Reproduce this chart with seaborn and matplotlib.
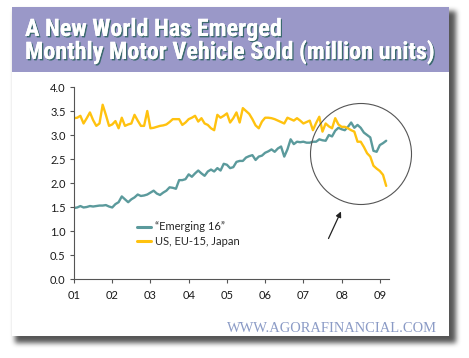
import numpy as np
import pandas as pd
import matplotlib
matplotlib.use("Agg")
import matplotlib.pyplot as plt
import seaborn as sns
from matplotlib import patches, patheffects, font_manager

# ---------------- data (monthly, Jan 2001 .. Mar 2009, million units) ----------------
emerging = [1.48, 1.49, 1.52, 1.49, 1.50, 1.52, 1.51, 1.52, 1.53, 1.53,
            1.54, 1.51, 1.49, 1.56, 1.60, 1.72, 1.66, 1.60, 1.66, 1.70,
            1.76, 1.73, 1.74, 1.76, 1.80, 1.84, 1.78, 1.75, 1.80, 1.84,
            1.91, 1.90, 1.88, 2.06, 2.06, 2.08, 2.18, 2.13, 2.20, 2.26,
            2.20, 2.15, 2.24, 2.28, 2.24, 2.31, 2.26, 2.40, 2.38, 2.31,
            2.33, 2.44, 2.46, 2.46, 2.53, 2.56, 2.58, 2.48, 2.55, 2.57,
            2.63, 2.66, 2.70, 2.65, 2.72, 2.76, 2.55, 2.70, 2.91, 2.81,
            2.86, 2.85, 2.86, 2.84, 2.84, 2.86, 2.86, 2.91, 2.89, 2.88,
            3.00, 2.97, 3.09, 3.15, 3.12, 3.10, 3.17, 3.26, 3.15, 3.21,
            3.15, 3.05, 3.00, 2.95, 2.67, 2.65, 2.79, 2.83, 2.88]
developed = [3.35, 3.36, 3.40, 3.24, 3.35, 3.47, 3.31, 3.19, 3.24, 3.63,
             3.42, 3.19, 3.22, 3.29, 3.14, 3.36, 3.19, 3.22, 3.24, 3.42,
             3.30, 3.19, 3.19, 3.50, 3.14, 3.15, 3.17, 3.19, 3.20, 3.22,
             3.27, 3.33, 3.33, 3.33, 3.21, 3.26, 3.33, 3.36, 3.40, 3.28,
             3.35, 3.24, 3.21, 3.14, 3.10, 3.42, 3.36, 3.40, 3.45, 3.26,
             3.35, 3.47, 3.26, 3.56, 3.50, 3.44, 3.33, 3.20, 3.14, 3.28,
             3.36, 3.36, 3.35, 3.33, 3.30, 3.27, 3.24, 3.36, 3.33, 3.30,
             3.35, 3.30, 3.24, 3.27, 3.30, 3.10, 3.25, 3.38, 3.07, 3.24,
             3.18, 3.14, 3.35, 3.22, 3.17, 3.17, 3.14, 3.10, 3.07, 2.86,
             2.86, 2.75, 2.62, 2.55, 2.36, 2.30, 2.25, 2.17, 1.94]
series_names = ["\u201cEmerging 16\u201d", "US, EU-15, Japan"]
year_ticks = [2001, 2002, 2003, 2004, 2005, 2006, 2007, 2008, 2009]
year_labels = ["01", "02", "03", "04", "05", "06", "07", "08", "09"]
y_ticks = [0.0, 0.5, 1.0, 1.5, 2.0, 2.5, 3.0, 3.5, 4.0]
title_lines = ["A New World Has Emerged",
               "Monthly Motor Vehicle Sold (million units)"]
watermark = "WWW.AGORAFINANCIAL.COM"

n = len(emerging)
dates = 2001 + np.arange(n) / 12.0
df = pd.DataFrame({
    "date": np.concatenate([dates, dates]),
    "value": emerging + developed,
    "series": [series_names[0]] * n + [series_names[1]] * n,
})

# ---------------- style ----------------
sns.set_style("ticks")
plt.rcParams["font.family"] = ["Lato", "DejaVu Sans"]

def pick(fams):
    avail = {f.name for f in font_manager.fontManager.ttflist}
    for f in fams:
        if f in avail:
            return f
    return "DejaVu Sans"

title_font = pick(["Liberation Sans Narrow", "Roboto Condensed", "DejaVu Sans"])
serif_font = pick(["Liberation Serif", "DejaVu Serif"])

W, H = 469, 358
fig = plt.figure(figsize=(W / 100, H / 100), dpi=100)
fig.patch.set_facecolor("white")

# drop shadow behind the panel (blurred mask)
yy, xx = np.mgrid[0:H, 0:W]
mask = ((xx >= 15) & (xx < 456) & (yy >= 11) & (yy < 343)).astype(float)

def box_blur(a, r):
    for axis in (0, 1):
        c = np.cumsum(np.pad(a, [(r + 1, r) if ax == axis else (0, 0) for ax in (0, 1)], mode="edge"), axis=axis)
        if axis == 0:
            a = (c[2 * r + 1:, :] - c[:-2 * r - 1, :]) / (2 * r + 1)
        else:
            a = (c[:, 2 * r + 1:] - c[:, :-2 * r - 1]) / (2 * r + 1)
    return a

for _ in range(3):
    mask = box_blur(mask, 2)
shadow = np.zeros((H, W, 4))
shadow[..., :3] = 0.22
shadow[..., 3] = np.clip(mask, 0, 1) * 0.85
fig.figimage(shadow, 0, 0, origin="upper", zorder=-3)

panel = patches.Rectangle((12 / W, (H - 336) / H), (449 - 12) / W, (336 - 7) / H,
                          transform=fig.transFigure, fc="white", ec="none", zorder=-2)
fig.add_artist(panel)
band = patches.Rectangle((12 / W, (H - 72) / H), (449 - 12) / W, (72 - 7) / H,
                         transform=fig.transFigure, fc="#9a98c8", ec="none", zorder=-1)
fig.add_artist(band)

# ---------------- titles ----------------
pe = [patheffects.withSimplePatchShadow(offset=(1.0, -1.0), shadow_rgbFace="#3b6a6e", alpha=1.0),
      patheffects.Normal()]
t1 = fig.text(25 / W, (H - 36) / H, title_lines[0], color="white", fontweight="bold",
              family=title_font, fontsize=15, va="baseline", ha="left", path_effects=pe)
t2 = fig.text(25 / W, (H - 59) / H, title_lines[1], color="white", fontweight="bold",
              family=title_font, fontsize=15, va="baseline", ha="left", path_effects=pe)
wm = fig.text(437 / W, (H - 328) / H, watermark, color="#8b9bc6", family=serif_font,
              fontsize=9, va="center", ha="right")
fig.canvas.draw()
r = fig.canvas.get_renderer()
w2 = t2.get_window_extent(r).width
fs = 15 * 410 / w2
t1.set_fontsize(fs)
t2.set_fontsize(fs)
ww = wm.get_window_extent(r).width
wm.set_fontsize(9 * 210 / ww)

# ---------------- chart ----------------
ax = fig.add_axes([74 / W, (H - 279) / H, (389 - 74) / W, (279 - 87) / H], zorder=1)
ax.set_facecolor("none")
sns.lineplot(data=df, x="date", y="value", hue="series", hue_order=series_names,
             palette=["#5b9a9c", "#ffc20f"], linewidth=1.7, ax=ax)
ax.set_xlim(2001, 2009.24)
ax.set_ylim(0, 4)
ax.set_xticks(year_ticks)
ax.set_xticklabels(year_labels)
ax.set_yticks(y_ticks)
ax.set_yticklabels([f"{v:.1f}" for v in y_ticks])
ax.set_xlabel("")
ax.set_ylabel("")
for s in ("top", "right"):
    ax.spines[s].set_visible(False)
for s in ("left", "bottom"):
    ax.spines[s].set_color("#555555")
    ax.spines[s].set_linewidth(0.8)
ax.tick_params(axis="both", direction="out", length=3, width=0.8, color="#555555",
               labelsize=8, labelcolor="#1a1a1a")
ax.tick_params(axis="y", pad=3)
ax.tick_params(axis="x", pad=5)

handles, labels = ax.get_legend_handles_labels()
for h in handles:
    h.set_linewidth(2.2)
ax.legend(handles, labels, loc="upper left", bbox_to_anchor=(0.2, 0.3), frameon=False,
          fontsize=8, handlelength=1.3, handletextpad=0.3, labelspacing=0.3,
          borderpad=0, borderaxespad=0)

# annotation circle and arrow
circ = patches.Circle((361 / 100, (H - 154) / 100), 0.505, transform=fig.dpi_scale_trans,
                      fill=False, ec="#555555", lw=0.8, zorder=3)
fig.add_artist(circ)
ax.annotate("", xy=(341, H - 211.5), xytext=(328.5, H - 238.5),
            xycoords="figure pixels", textcoords="figure pixels", annotation_clip=False,
            arrowprops=dict(arrowstyle="-|>", color="#222222", lw=0.9,
                            mutation_scale=8, shrinkA=0, shrinkB=0))

fig.savefig("out.png", dpi=100)
